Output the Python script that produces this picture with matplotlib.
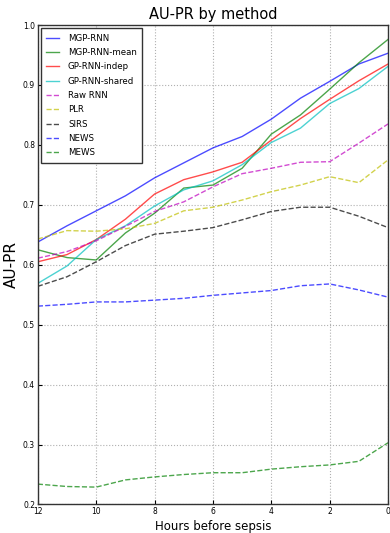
import numpy as np
import matplotlib
matplotlib.use('Agg')
import matplotlib.pyplot as plt

hours = [12, 11, 10, 9, 8, 7, 6, 5, 4, 3, 2, 1, 0]

mgp_rnn = [0.638, 0.665, 0.690, 0.715, 0.745, 0.770, 0.795, 0.814, 0.843, 0.878, 0.906, 0.935, 0.953]
mgp_rnn_mean = [0.625, 0.612, 0.608, 0.653, 0.686, 0.728, 0.733, 0.761, 0.818, 0.850, 0.893, 0.937, 0.976]
gp_rnn_indep = [0.605, 0.617, 0.642, 0.676, 0.718, 0.742, 0.755, 0.771, 0.808, 0.844, 0.876, 0.907, 0.935]
gp_rnn_shared = [0.569, 0.598, 0.642, 0.665, 0.698, 0.725, 0.740, 0.767, 0.804, 0.828, 0.869, 0.894, 0.931]
raw_rnn = [0.611, 0.622, 0.640, 0.664, 0.689, 0.705, 0.730, 0.752, 0.761, 0.771, 0.772, 0.803, 0.835]
plr = [0.643, 0.657, 0.656, 0.660, 0.669, 0.690, 0.696, 0.708, 0.722, 0.733, 0.747, 0.737, 0.775]
sirs = [0.564, 0.580, 0.605, 0.632, 0.651, 0.656, 0.662, 0.675, 0.689, 0.696, 0.696, 0.681, 0.662]
news = [0.531, 0.534, 0.538, 0.538, 0.541, 0.544, 0.549, 0.553, 0.557, 0.565, 0.568, 0.558, 0.546]
mews = [0.234, 0.230, 0.229, 0.241, 0.246, 0.250, 0.253, 0.253, 0.259, 0.263, 0.266, 0.272, 0.303]

series = [
    ('MGP-RNN', mgp_rnn, 'b', '-'),
    ('MGP-RNN-mean', mgp_rnn_mean, 'g', '-'),
    ('GP-RNN-indep', gp_rnn_indep, 'r', '-'),
    ('GP-RNN-shared', gp_rnn_shared, 'c', '-'),
    ('Raw RNN', raw_rnn, 'm', '--'),
    ('PLR', plr, 'y', '--'),
    ('SIRS', sirs, 'k', '--'),
    ('NEWS', news, 'b', '--'),
    ('MEWS', mews, 'g', '--'),
]

fig = plt.figure(figsize=(3.9, 5.33), dpi=100)
ax = fig.add_axes([0.097, 0.0535, 0.898, 0.8995])

for (name, vals, col, ls) in series:
    ax.plot(hours, vals, color=col, linestyle=ls, linewidth=1, alpha=0.7, label=name)

ax.set_xlim(12, 0)
ax.set_ylim(0.2, 1.0)
ax.set_xticks([12, 10, 8, 6, 4, 2, 0])
ax.set_yticks(np.arange(0.2, 1.01, 0.1))
ax.tick_params(axis='both', which='both', direction='in', labelsize=5.5, length=3, pad=2)
ax.grid(True, linestyle=':', color='#b0b0b0', linewidth=0.8)
for s in ax.spines.values():
    s.set_linewidth(1)
    s.set_color('#333333')

ax.set_title('AU-PR by method', fontsize=10.5, pad=4)
ax.set_xlabel('Hours before sepsis', fontsize=8.5, labelpad=2.5)
ax.set_ylabel('AU-PR', fontsize=11, labelpad=3)

leg = ax.legend(loc='upper left', fontsize=6.2, fancybox=False, framealpha=1,
                edgecolor='#333333', handlelength=1.5, handletextpad=1.0,
                borderpad=0.6, labelspacing=0.62, borderaxespad=0.4)
leg.get_frame().set_linewidth(1)

plt.savefig('out.png', dpi=100)
